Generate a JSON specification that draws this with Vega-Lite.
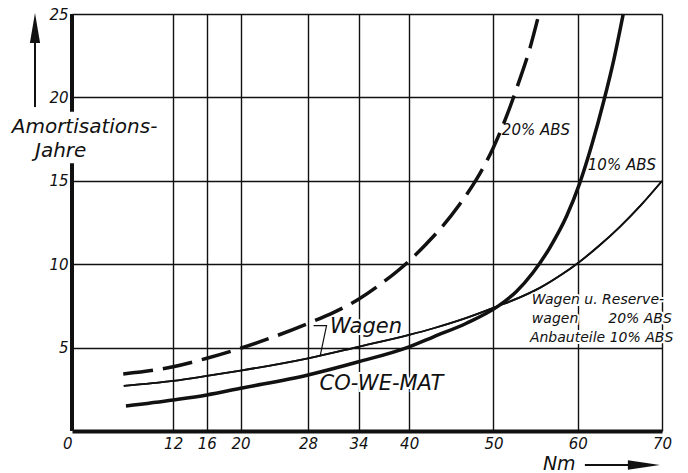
{
  "$schema": "https://vega.github.io/schema/vega-lite/v6.json",
  "width": 590,
  "height": 417,
  "autosize": {"type": "none"},
  "padding": {"left": 72, "top": 14, "right": 26, "bottom": 42},
  "background": "white",
  "config": {"view": {"stroke": null}, "font": "DejaVu Sans"},
  "datasets": {
    "thin": [
      {"x": 6.14, "y": 2.70}, {"x": 12, "y": 3.0}, {"x": 16, "y": 3.30}, {"x": 20, "y": 3.62},
      {"x": 28, "y": 4.36}, {"x": 34, "y": 5.05}, {"x": 40, "y": 5.76}, {"x": 42.9, "y": 6.16},
      {"x": 46.8, "y": 6.78}, {"x": 50.6, "y": 7.5}, {"x": 53, "y": 7.98}, {"x": 55.5, "y": 8.58},
      {"x": 58, "y": 9.35}, {"x": 60, "y": 10.06}, {"x": 62.5, "y": 11.09}, {"x": 65, "y": 12.24},
      {"x": 67.5, "y": 13.54}, {"x": 70, "y": 14.99}
    ],
    "thick": [
      {"x": 6.4, "y": 1.5}, {"x": 12, "y": 1.86}, {"x": 16, "y": 2.16}, {"x": 20, "y": 2.56},
      {"x": 28, "y": 3.36}, {"x": 34, "y": 4.15}, {"x": 40, "y": 5.05}, {"x": 42.9, "y": 5.65},
      {"x": 46.8, "y": 6.46}, {"x": 50.6, "y": 7.5}, {"x": 52.7, "y": 8.35}, {"x": 54.7, "y": 9.5},
      {"x": 56.7, "y": 11.0}, {"x": 58.7, "y": 12.9}, {"x": 60.2, "y": 14.8}, {"x": 61.7, "y": 17.2},
      {"x": 63.1, "y": 19.8}, {"x": 64.3, "y": 22.3}, {"x": 65.4, "y": 25.0}
    ],
    "dashed": [
      {"x": 6.08, "y": 3.42}, {"x": 12, "y": 3.85}, {"x": 16, "y": 4.36}, {"x": 20, "y": 4.96},
      {"x": 28, "y": 6.45}, {"x": 31, "y": 7.1}, {"x": 34, "y": 7.9}, {"x": 37, "y": 8.95},
      {"x": 40, "y": 10.2}, {"x": 42, "y": 11.2}, {"x": 44, "y": 12.3}, {"x": 46, "y": 13.6},
      {"x": 48, "y": 15.1}, {"x": 50, "y": 17.0}, {"x": 51.5, "y": 18.8}, {"x": 53, "y": 20.9},
      {"x": 54.3, "y": 22.9}, {"x": 55.4, "y": 25.0}
    ],
    "leader": [
      {"x": 28.66, "y": 6.32, "o": 1}, {"x": 30.2, "y": 6.32, "o": 2}, {"x": 29.45, "y": 4.52, "o": 3}
    ],
    "leftAxis": [
      {"x": 0, "y": 0, "y2": 16.05}, {"x": 0, "y": 19.14, "y2": 25}
    ],
    "arrowShafts": [
      {"x": -4.39, "y": 19.42, "x2": -4.39, "y2": 23.6},
      {"x": 60.85, "y": -2.04, "x2": 67.2, "y2": -2.04}
    ],
    "upHead": [{"x": -4.39, "y": 24.16}],
    "rightHead": [{"x": 67.85, "y": -2.04}],
    "bigLabels": [
      {"t": "Wagen", "x": 30.6, "y": 5.86},
      {"t": "CO-WE-MAT", "x": 29.36, "y": 2.46}
    ],
    "yTitle": [
      {"t": "Amortisations-", "x": -7.15, "y": 17.88},
      {"t": "Jahre", "x": -4.39, "y": 16.45}
    ],
    "xTitle": [{"t": "Nm", "x": 55.87, "y": -2.34}],
    "midLabels": [
      {"t": "20% ABS", "x": 51.0, "y": 17.75},
      {"t": "10% ABS", "x": 61.2, "y": 15.65}
    ],
    "smallLeft": [
      {"t": "Wagen u. Reserve-", "x": 54.56, "y": 7.61},
      {"t": "wagen", "x": 54.56, "y": 6.47},
      {"t": "Anbauteile 10% ABS", "x": 54.33, "y": 5.34}
    ],
    "smallRight": [
      {"t": "20% ABS", "x": 71.17, "y": 6.47}
    ]
  },
  "encoding": {
    "x": {"field": "x", "type": "quantitative", "scale": {"domain": [0, 70], "nice": false, "zero": false}},
    "y": {"field": "y", "type": "quantitative", "scale": {"domain": [0, 25], "nice": false, "zero": false}}
  },
  "layer": [
    {
      "data": {"name": "thin"},
      "mark": {"type": "line", "interpolate": "monotone", "strokeWidth": 1.8, "color": "#111"},
      "encoding": {
        "x": {"field": "x", "type": "quantitative",
          "axis": {
            "values": [0, 12, 16, 20, 28, 34, 40, 50, 60, 70],
            "title": null, "grid": true, "gridColor": "#111", "gridWidth": 1.4,
            "gridOpacity": {"condition": {"test": "datum.value === 0", "value": 0}, "value": 1},
            "domain": true, "domainColor": "#111", "domainWidth": 4, "ticks": false,
            "labelFont": "DejaVu Sans", "labelFontStyle": "italic", "labelFontSize": 15, "labelColor": "#111",
            "labelPadding": 5, "labelFlush": false, "labelOverlap": false,
            "labelAlign": {"condition": {"test": "datum.value === 0", "value": "right"}, "value": "center"}
          }},
        "y": {"field": "y", "type": "quantitative",
          "axis": {
            "values": [5, 10, 15, 20, 25],
            "title": null, "grid": true, "gridColor": "#111", "gridWidth": 1.4, "gridOpacity": 1,
            "domain": false, "ticks": false,
            "labelFont": "DejaVu Sans", "labelFontStyle": "italic", "labelFontSize": 15, "labelColor": "#111",
            "labelPadding": 4, "labelFlush": false, "labelOverlap": false
          }}
      }
    },
    {
      "data": {"name": "leftAxis"},
      "mark": {"type": "rule", "strokeWidth": 4, "color": "#111"},
      "encoding": {"y2": {"field": "y2"}}
    },
    {
      "data": {"name": "bigLabels"},
      "mark": {"type": "text", "align": "left", "baseline": "alphabetic", "fontSize": 21, "fontStyle": "italic", "stroke": "white", "strokeWidth": 4, "fill": "white"},
      "encoding": {"text": {"field": "t"}}
    },
    {
      "data": {"name": "midLabels"},
      "mark": {"type": "text", "align": "left", "baseline": "alphabetic", "fontSize": 15, "fontStyle": "italic", "stroke": "white", "strokeWidth": 4, "fill": "white"},
      "encoding": {"text": {"field": "t"}}
    },
    {
      "data": {"name": "smallLeft"},
      "mark": {"type": "text", "align": "left", "baseline": "alphabetic", "fontSize": 14, "fontStyle": "italic", "stroke": "white", "strokeWidth": 4, "fill": "white"},
      "encoding": {"text": {"field": "t"}}
    },
    {
      "data": {"name": "smallRight"},
      "mark": {"type": "text", "align": "right", "baseline": "alphabetic", "fontSize": 14, "fontStyle": "italic", "stroke": "white", "strokeWidth": 4, "fill": "white"},
      "encoding": {"text": {"field": "t"}}
    },
    {
      "data": {"name": "thin"},
      "mark": {"type": "line", "interpolate": "monotone", "strokeWidth": 1.8, "color": "#111"}
    },
    {
      "data": {"name": "thick"},
      "mark": {"type": "line", "interpolate": "monotone", "strokeWidth": 3.5, "color": "#111"}
    },
    {
      "data": {"name": "dashed"},
      "mark": {"type": "line", "interpolate": "monotone", "strokeWidth": 3.5, "strokeDash": [30, 10], "color": "#111"}
    },
    {
      "data": {"name": "leader"},
      "mark": {"type": "line", "strokeWidth": 1.2, "color": "#111"},
      "encoding": {"order": {"field": "o", "type": "quantitative"}}
    },
    {
      "data": {"name": "arrowShafts"},
      "mark": {"type": "rule", "strokeWidth": 2, "color": "#111"},
      "encoding": {"x2": {"field": "x2"}, "y2": {"field": "y2"}}
    },
    {
      "data": {"name": "upHead"},
      "mark": {"type": "point", "shape": "M0,-1L0.34,1L-0.34,1Z", "size": 900, "filled": true, "color": "#111", "opacity": 1, "strokeWidth": 0}
    },
    {
      "data": {"name": "rightHead"},
      "mark": {"type": "point", "shape": "M1,0L-1,-0.3L-1,0.3Z", "size": 1024, "filled": true, "color": "#111", "opacity": 1, "strokeWidth": 0}
    },
    {
      "data": {"name": "bigLabels"},
      "mark": {"type": "text", "align": "left", "baseline": "alphabetic", "fontSize": 21, "fontStyle": "italic", "color": "#111"},
      "encoding": {"text": {"field": "t"}}
    },
    {
      "data": {"name": "yTitle"},
      "mark": {"type": "text", "align": "left", "baseline": "alphabetic", "fontSize": 20, "fontStyle": "italic", "color": "#111"},
      "encoding": {"text": {"field": "t"}}
    },
    {
      "data": {"name": "xTitle"},
      "mark": {"type": "text", "align": "left", "baseline": "alphabetic", "fontSize": 19, "fontStyle": "italic", "color": "#111"},
      "encoding": {"text": {"field": "t"}}
    },
    {
      "data": {"name": "midLabels"},
      "mark": {"type": "text", "align": "left", "baseline": "alphabetic", "fontSize": 15, "fontStyle": "italic", "color": "#111"},
      "encoding": {"text": {"field": "t"}}
    },
    {
      "data": {"name": "smallLeft"},
      "mark": {"type": "text", "align": "left", "baseline": "alphabetic", "fontSize": 14, "fontStyle": "italic", "color": "#111"},
      "encoding": {"text": {"field": "t"}}
    },
    {
      "data": {"name": "smallRight"},
      "mark": {"type": "text", "align": "right", "baseline": "alphabetic", "fontSize": 14, "fontStyle": "italic", "color": "#111"},
      "encoding": {"text": {"field": "t"}}
    }
  ]
}
